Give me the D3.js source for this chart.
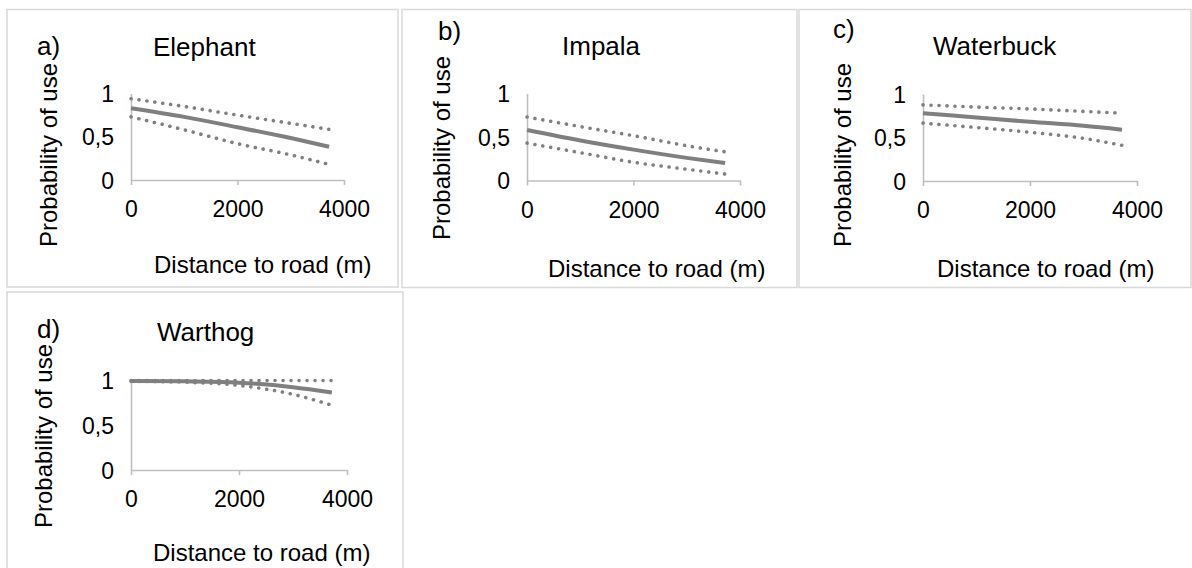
<!DOCTYPE html>
<html>
<head>
<meta charset="utf-8">
<script src="https://cdn.jsdelivr.net/npm/d3@7"></script>
<style>
  body { margin: 0; background: #fff; }
  svg text { font-family: "Liberation Sans", Arial, sans-serif; fill: #000; }
  .tick text { font-size: 23px; }
  .axis-label { font-size: 24px; }
  .title, .letter { font-size: 26px; }
</style>
</head>
<body>
<svg width="1192" height="568"></svg>
<script>
const svg = d3.select('svg');

// data
const distance = [0, 1000, 2000, 3000, 3720];
const species = ['Elephant', 'Impala', 'Waterbuck', 'Warthog'];
const letters = ['a)', 'b)', 'c)', 'd)'];
const xTicks = [0, 2000, 4000];
const yTicks = [0, 0.5, 1];

const elephantFit   = [0.83, 0.73, 0.61, 0.485, 0.385];
const elephantUpper = [0.94, 0.85, 0.75, 0.655, 0.585];
const elephantLower = [0.73, 0.58, 0.42, 0.29, 0.18];

const impalaFit   = [0.58, 0.46, 0.355, 0.26, 0.20];
const impalaUpper = [0.73, 0.62, 0.515, 0.40, 0.33];
const impalaLower = [0.43, 0.32, 0.21, 0.13, 0.075];

const waterbuckFit   = [0.78, 0.73, 0.68, 0.635, 0.59];
const waterbuckUpper = [0.875, 0.85, 0.828, 0.80, 0.78];
const waterbuckLower = [0.665, 0.615, 0.56, 0.49, 0.41];

const warthogFit   = [0.99, 0.985, 0.97, 0.92, 0.86];
const warthogUpper = [0.995, 0.995, 0.995, 0.995, 0.995];
const warthogLower = [0.985, 0.975, 0.94, 0.84, 0.72];

const fits   = [elephantFit, impalaFit, waterbuckFit, warthogFit];
const uppers = [elephantUpper, impalaUpper, waterbuckUpper, warthogUpper];
const lowers = [elephantLower, impalaLower, waterbuckLower, warthogLower];

// layout of each little Excel chart
const panels = [
  {box: [7, 9.5, 391, 277.5], x: [131, 344], y: [180, 93.5],
   letter: [37, 55], title: [153, 56], yLab: [57, 155], xLab: [154, 273]},
  {box: [402, 9.5, 395, 278], x: [527, 740], y: [180.5, 93.5],
   letter: [438, 40], title: [562, 55], yLab: [450, 148], xLab: [548, 277]},
  {box: [799, 9.5, 392, 278], x: [923, 1137], y: [181, 94],
   letter: [833, 38], title: [933, 55], yLab: [851, 155], xLab: [937, 277]},
  {box: [7, 292, 396, 290], x: [131, 347], y: [470, 380],
   letter: [37, 338], title: [157, 341], yLab: [52, 436], xLab: [153, 561]}
];

const comma = d3.formatLocale({decimal: ',', thousands: '.', grouping: [3], currency: ['', '']});
const yFormat = d => d === 0.5 ? comma.format('.1f')(d) : d3.format('d')(d);

panels.forEach((p, i) => {
  const g = svg.append('g');

  g.append('rect')
    .attr('x', p.box[0]).attr('y', p.box[1])
    .attr('width', p.box[2]).attr('height', p.box[3])
    .attr('fill', 'none')
    .attr('stroke', '#d9d9d9')
    .attr('stroke-width', 1.5);

  const xScale = d3.scaleLinear().domain([0, 4000]).range(p.x);
  const yScale = d3.scaleLinear().domain([0, 1]).range(p.y);

  const xAxisG = g.append('g')
    .attr('transform', `translate(0, ${p.y[0]})`)
    .call(d3.axisBottom(xScale).tickValues(xTicks).tickFormat(d3.format('d'))
      .tickSize(5).tickSizeOuter(0).tickPadding(15.7));

  const yAxisG = g.append('g')
    .attr('transform', `translate(${p.x[0]}, 0)`)
    .call(d3.axisLeft(yScale).tickValues(yTicks).tickFormat(yFormat).tickSize(0).tickPadding(17));

  [xAxisG, yAxisG].forEach(a => {
    a.selectAll('.domain, line').attr('stroke', '#bfbfbf').attr('stroke-width', 1.6);
    a.selectAll('text').attr('fill', '#000').attr('font-family', null).attr('font-size', null);
  });
  yAxisG.selectAll('text').attr('dy', '0.35em');

  const line = d3.line()
    .x((d, j) => xScale(distance[j]))
    .y(d => yScale(d))
    .curve(d3.curveMonotoneX);

  [uppers[i], lowers[i]].forEach(s => {
    g.append('path')
      .attr('d', line(s))
      .attr('fill', 'none')
      .attr('stroke', '#808080')
      .attr('stroke-width', 3.6)
      .attr('stroke-linecap', 'round')
      .attr('stroke-dasharray', '0.1 7.9');
  });

  g.append('path')
    .attr('d', line(fits[i]))
    .attr('fill', 'none')
    .attr('stroke', '#7f7f7f')
    .attr('stroke-width', 4);

  g.append('text')
    .attr('class', 'letter')
    .attr('x', p.letter[0]).attr('y', p.letter[1])
    .text(letters[i]);

  g.append('text')
    .attr('class', 'title')
    .attr('x', p.title[0]).attr('y', p.title[1])
    .text(species[i]);

  g.append('text')
    .attr('class', 'axis-label')
    .attr('text-anchor', 'middle')
    .attr('transform', `translate(${p.yLab[0]}, ${p.yLab[1]}) rotate(-90)`)
    .text('Probability of use');

  g.append('text')
    .attr('class', 'axis-label')
    .attr('x', p.xLab[0]).attr('y', p.xLab[1])
    .text('Distance to road (m)');
});
</script>
</body>
</html>
